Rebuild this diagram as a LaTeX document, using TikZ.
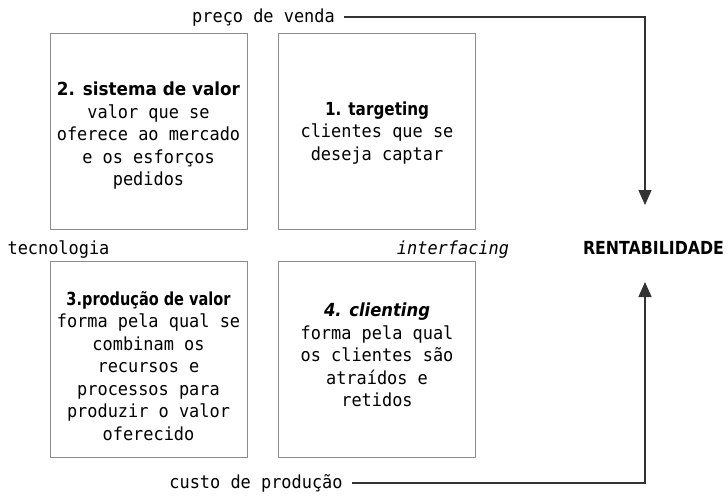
\documentclass[tikz,border=0pt]{standalone}
\usepackage{fontspec}
\usepackage{graphicx}
\usetikzlibrary{arrows.meta}
\newfontfamily\regf[FakeStretch=0.94]{DejaVu Sans Mono}
\newfontfamily\boldf{DejaVu Sans}
\definecolor{boxgray}{HTML}{8C8C8C}
\definecolor{linegray}{HTML}{333333}
\newcommand\fitw[2]{\resizebox{#1}{\height}{#2}}
\begin{document}
\begin{tikzpicture}[x=1pt,y=-1pt,
  quad/.style={draw=boxgray,line width=1pt,minimum width=197pt,minimum height=196pt,inner sep=0pt},
  body/.style={align=center,font=\regf\fontsize{18}{22.5}\selectfont,inner sep=0pt},
  lbl/.style={font=\regf\fontsize{18}{22}\selectfont,inner sep=0pt,anchor=base},
  ttl/.style={font=\boldf\bfseries\fontsize{18}{22}\selectfont,inner sep=0pt,anchor=base},
  flow/.style={draw=linegray,line width=1.5pt},
  tip/.style={-{Triangle[length=15pt,width=13pt]}}]
\useasboundingbox (0,0) rectangle (728,496);

% quadrants
\node[quad] (q2) at (148.5,131) {};
\node[quad] (q1) at (377,131) {};
\node[quad] (q3) at (148.5,359.5) {};
\node[quad] (q4) at (377,359.5) {};

% texts
\node[body] (t2) at (148.5,136) {{\boldf\bfseries\fitw{183pt}{2. sistema de valor}}\\valor que se\\oferece ao mercado\\e os esforços\\pedidos};
\node[body] (t1) at (377,133) {{\boldf\bfseries\fitw{104pt}{1. targeting}}\\clientes que se\\deseja captar};
\node[body] (t3) at (148.5,366) {{\boldf\bfseries\fitw{164pt}{3.produção de valor}}\\forma pela qual se\\combinam os\\recursos e\\processos para\\produzir o valor\\oferecido};
\node[body] (t4) at (377,355) {{\boldf\bfseries\itshape\fitw{106pt}{4. clienting}}\\forma pela qual\\os clientes são\\atraídos e\\retidos};

% side labels
\node[lbl] (pv) at (263.5,22) {preço de venda};
\node[lbl] (cp) at (256,488) {custo de produção};
\node[lbl] (tec) at (58.5,254) {tecnologia};
\node[lbl,font=\regf\itshape\fontsize{18}{22}\selectfont] (itf) at (453,254) {interfacing};
\node[ttl] (rent) at (653.5,254) {\fitw{141pt}{RENTABILIDADE}};

% arrows
\coordinate (tipA) at (645,205);
\coordinate (tipB) at (645,282);
\draw[flow,tip] ([xshift=9pt]pv.east) -| (tipA);
\draw[flow,tip] ([xshift=9pt]cp.east) -| (tipB);
\end{tikzpicture}
\end{document}
